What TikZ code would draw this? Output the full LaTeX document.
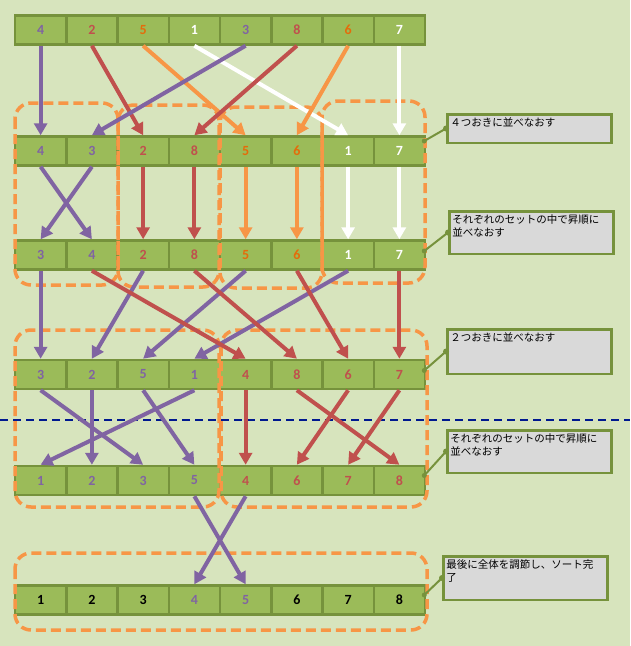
\documentclass[tikz,border=0pt]{standalone}
\usepackage{fontspec}
\usepackage{tikz}
\usetikzlibrary{arrows.meta}
\newfontfamily\numfont{Carlito}
\newfontfamily\jpfont{Noto Sans CJK JP}

\definecolor{bgc}{HTML}{D7E4BD}
\definecolor{cellfill}{HTML}{9BBB59}
\definecolor{cellline}{HTML}{76923C}
\definecolor{purp}{HTML}{8064A2}
\definecolor{redd}{HTML}{C0504D}
\definecolor{oran}{HTML}{F79646}
\definecolor{tO}{HTML}{E46C0A}
\definecolor{notegray}{HTML}{D9D9D9}
\definecolor{navy}{HTML}{00188F}

\tikzset{
  cell/.style={draw=cellline, fill=cellfill, line width=2.5pt, minimum width=51.25pt,
    minimum height=29pt, inner sep=0pt, font=\numfont\bfseries\fontsize{14}{16}\selectfont},
  arr/.style={line width=4pt, -{Triangle[length=12pt,width=13pt]}},
  grp/.style={oran, line width=3.5pt, dash pattern=on 10pt off 5pt, rounded corners=16pt},
  note/.style={draw=cellline, fill=notegray, line width=2.5pt, anchor=north west,
    inner sep=3pt, font=\jpfont\fontsize{10.5}{13.5}\selectfont},
  link/.style={cellline, line width=2pt},
}
\newcommand{\notetext}[2]{\parbox[c][#1][t]{158pt}{#2}}

\begin{document}
\begin{tikzpicture}[x=1pt,y=-1pt]
% background
\fill[bgc] (0,0) rectangle (630,646);
\useasboundingbox (0,0) rectangle (630,646);

% rows of cells
\foreach \r/\y/\vals in {
  1/30/{4/purp,2/redd,5/tO,1/white,3/purp,8/redd,6/tO,7/white},
  2/151/{4/purp,3/purp,2/redd,8/redd,5/tO,6/tO,1/white,7/white},
  3/255/{3/purp,4/purp,2/redd,8/redd,5/tO,6/tO,1/white,7/white},
  4/374.5/{3/purp,2/purp,5/purp,1/purp,4/redd,8/redd,6/redd,7/redd},
  5/480.5/{1/purp,2/purp,3/purp,5/purp,4/redd,6/redd,7/redd,8/redd},
  6/600/{1/black,2/black,3/black,4/purp,5/purp,6/black,7/black,8/black}}{
  \foreach \v/\c [count=\i] in \vals
    \node[cell, text=\c] (r\r-\i) at ({15+51.25*(\i-0.5)},\y) {\v};
}

% sets of two
\draw[grp] (15,103) rectangle (118,285);
\draw[grp] (118,105) rectangle (219,287);
\draw[grp] (220,107) rectangle (322,288);
\draw[grp] (322,101) rectangle (425,283);
% sets of four
\draw[grp] (15,330) rectangle (219,507);
\draw[grp] (221,330) rectangle (427,507);
\draw[oran, line width=1.5pt] (220,343) -- (220,465);
% whole set
\draw[grp] (15,553) rectangle (427,630);

\draw[navy, line width=2pt, dash pattern=on 8pt off 5pt] (0,420) -- (630,420);

% 4 apart
\foreach \a/\b/\c in {1/1/purp,2/3/redd,3/5/oran,4/7/white,5/2/purp,6/4/redd,7/6/oran,8/8/white}
  \draw[arr, color=\c] (r1-\a.south) -- (r2-\b.north);
% sort in each set
\foreach \a/\b/\c in {1/2/purp,2/1/purp,3/3/redd,4/4/redd,5/5/oran,6/6/oran,7/7/white,8/8/white}
  \draw[arr, color=\c] (r2-\a.south) -- (r3-\b.north);
% 2 apart
\foreach \a/\b/\c in {1/1/purp,3/2/purp,5/3/purp,7/4/purp,2/5/redd,4/6/redd,6/7/redd,8/8/redd}
  \draw[arr, color=\c] (r3-\a.south) -- (r4-\b.north);
% sort in each set
\foreach \a/\b/\c in {1/3/purp,2/2/purp,3/4/purp,4/1/purp,5/5/redd,6/8/redd,7/6/redd,8/7/redd}
  \draw[arr, color=\c] (r4-\a.south) -- (r5-\b.north);
% last step
\foreach \a/\b in {4/5,5/4}
  \draw[arr, color=purp] (r5-\a.south) -- (r6-\b.north);

% notes
\node[note] (n1) at (446,113) {\notetext{22.5pt}{４つおきに並べなおす}};
\node[note] (n2) at (448,210) {\notetext{36.5pt}{それぞれのセットの中で昇順に\\並べなおす}};
\node[note] (n3) at (446,328) {\notetext{38.5pt}{２つおきに並べなおす}};
\node[note] (n4) at (446,429) {\notetext{36.5pt}{それぞれのセットの中で昇順に\\並べなおす}};
\node[note] (n5) at (442,555) {\notetext{37.5pt}{最後に全体を調節し、ソート完\\了}};

\foreach \n/\r/\s in {1/2/10,2/3/4,3/4/4,4/5/5,5/6/5}{
  \coordinate (e\n) at ([xshift=-2pt,yshift=\s pt]r\r-8.east);
  \draw[link] (n\n.west) -- (e\n);
  \fill[cellline] (n\n.west) circle (3pt) (e\n) circle (2.5pt);
}
\end{tikzpicture}
\end{document}
